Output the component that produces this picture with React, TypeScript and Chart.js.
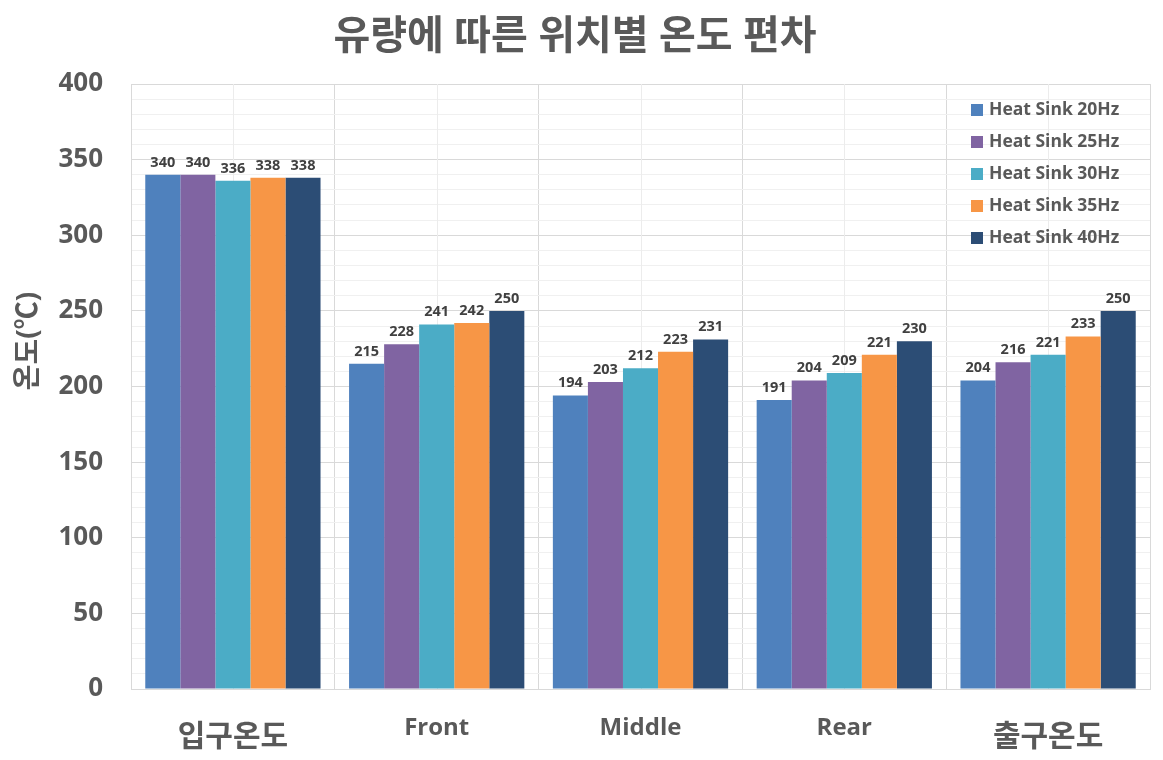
import React, { useEffect, useRef } from 'react';
import { Chart, registerables } from 'chart.js';

Chart.register(...registerables);

const chartTitle = '유량에 따른 위치별 온도 편차';
const yAxisTitle = '온도(℃)';
const categories = ['입구온도', 'Front', 'Middle', 'Rear', '출구온도'];
const seriesLabels = ['Heat Sink 20Hz', 'Heat Sink 25Hz', 'Heat Sink 30Hz', 'Heat Sink 35Hz', 'Heat Sink 40Hz'];
const hz20 = [340, 215, 194, 191, 204];
const hz25 = [340, 228, 203, 204, 216];
const hz30 = [336, 241, 212, 209, 221];
const hz35 = [338, 242, 223, 221, 233];
const hz40 = [338, 250, 231, 230, 250];
const seriesColors = ['#4F81BD', '#8064A2', '#4BACC6', '#F79646', '#2C4D75'];
const yMin = 0;
const yMax = 400;
const yMajorStep = 50;
const yMinorStep = 10;

const FONT = "'Open Sans', 'Noto Sans CJK KR', sans-serif";
const TEXT = '#595959';
const isKorean = (s: string) => /[\u3131-\uD79D]/.test(s);

export default function App() {
  const canvasRef = useRef<HTMLCanvasElement | null>(null);

  useEffect(() => {
    const canvas = canvasRef.current;
    if (!canvas) return;

    const seriesValues = [hz20, hz25, hz30, hz35, hz40];

    const centerLines = {
      id: 'centerLines',
      beforeDatasetsDraw(chart: any) {
        const { ctx, chartArea, scales } = chart;
        ctx.save();
        ctx.strokeStyle = '#ececec';
        ctx.lineWidth = 1;
        categories.forEach((_, i) => {
          const x = Math.round(scales.x.getPixelForTick(i)) + 0.5;
          ctx.beginPath();
          ctx.moveTo(x, chartArea.top);
          ctx.lineTo(x, chartArea.bottom);
          ctx.stroke();
        });
        ctx.restore();
      },
    };

    const valueLabels = {
      id: 'valueLabels',
      afterDatasetsDraw(chart: any) {
        const { ctx } = chart;
        ctx.save();
        ctx.font = `bold 14.5px ${FONT}`;
        ctx.fillStyle = '#404040';
        ctx.textAlign = 'center';
        ctx.textBaseline = 'bottom';
        chart.data.datasets.forEach((ds: any, di: number) => {
          const meta = chart.getDatasetMeta(di);
          meta.data.forEach((el: any, i: number) => {
            ctx.fillText(String(ds.data[i]), el.x, el.y - 5);
          });
        });
        ctx.restore();
      },
    };

    const sideTitle = {
      id: 'sideTitle',
      afterDraw(chart: any) {
        const { ctx } = chart;
        ctx.save();
        ctx.translate(29, 341);
        ctx.rotate(-Math.PI / 2);
        ctx.font = `bold 28px ${FONT}`;
        ctx.fillStyle = TEXT;
        ctx.textAlign = 'center';
        ctx.textBaseline = 'middle';
        ctx.fillText(yAxisTitle, 0, 0);
        ctx.restore();
      },
    };

    const innerLegend = {
      id: 'innerLegend',
      afterDraw(chart: any) {
        const { ctx } = chart;
        ctx.save();
        ctx.font = `bold 17.5px ${FONT}`;
        ctx.textAlign = 'left';
        ctx.textBaseline = 'middle';
        chart.data.datasets.forEach((ds: any, i: number) => {
          const y = 110 + i * 32;
          ctx.fillStyle = ds.backgroundColor;
          ctx.fillRect(971, y - 6, 12, 12);
          ctx.fillStyle = TEXT;
          ctx.fillText(ds.label, 989, y);
        });
        ctx.restore();
      },
    };

    const chart = new Chart(canvas, {
      type: 'bar',
      data: {
        labels: categories,
        datasets: seriesLabels.map((label, i) => ({
          label,
          data: seriesValues[i],
          backgroundColor: seriesColors[i],
          borderWidth: 0,
          barPercentage: 1,
          categoryPercentage: 0.86,
        })),
      },
      options: {
        responsive: false,
        animation: false,
        devicePixelRatio: 1,
        layout: { padding: { left: 0, right: 13, top: 0, bottom: 0 } },
        plugins: {
          legend: { display: false },
          tooltip: { enabled: false },
          title: {
            display: true,
            text: chartTitle,
            color: TEXT,
            font: { family: FONT, size: 40, weight: 'bold', lineHeight: 1.2 },
            padding: { top: 14, bottom: 22 },
          },
        },
        scales: {
          x: {
            grid: { offset: true, color: '#d9d9d9', drawTicks: false },
            border: { color: '#d9d9d9' },
            ticks: {
              color: TEXT,
              padding: 30,
              maxRotation: 0,
              autoSkip: false,
              font: (c: any) => {
                const k = isKorean(categories[c.index] || '');
                return { family: FONT, size: k ? 30 : 24, weight: 'bold', lineHeight: k ? 1.2 : 0.8 };
              },
            },
            afterFit: (s: any) => {
              s.height = 71;
            },
          },
          y: {
            min: yMin,
            max: yMax,
            grid: {
              drawTicks: false,
              color: (c: any) => (c.tick && c.tick.value % yMajorStep === 0 ? '#d9d9d9' : '#f0f0f0'),
            },
            border: { color: '#d9d9d9' },
            ticks: {
              stepSize: yMinorStep,
              autoSkip: false,
              maxTicksLimit: 100,
              padding: 28,
              color: TEXT,
              font: { family: FONT, size: 26, weight: 'bold' },
              callback: (v: any) => (Number(v) % yMajorStep === 0 ? String(v) : ''),
            },
            afterFit: (s: any) => {
              s.width = 131;
            },
          },
        },
      },
      plugins: [centerLines, valueLabels, sideTitle, innerLegend],
    });

    return () => chart.destroy();
  }, []);

  return (
    <div style={{ position: 'absolute', left: 0, top: 0, width: 1163, height: 760, background: '#ffffff' }}>
      <canvas ref={canvasRef} width={1163} height={760} />
    </div>
  );
}
